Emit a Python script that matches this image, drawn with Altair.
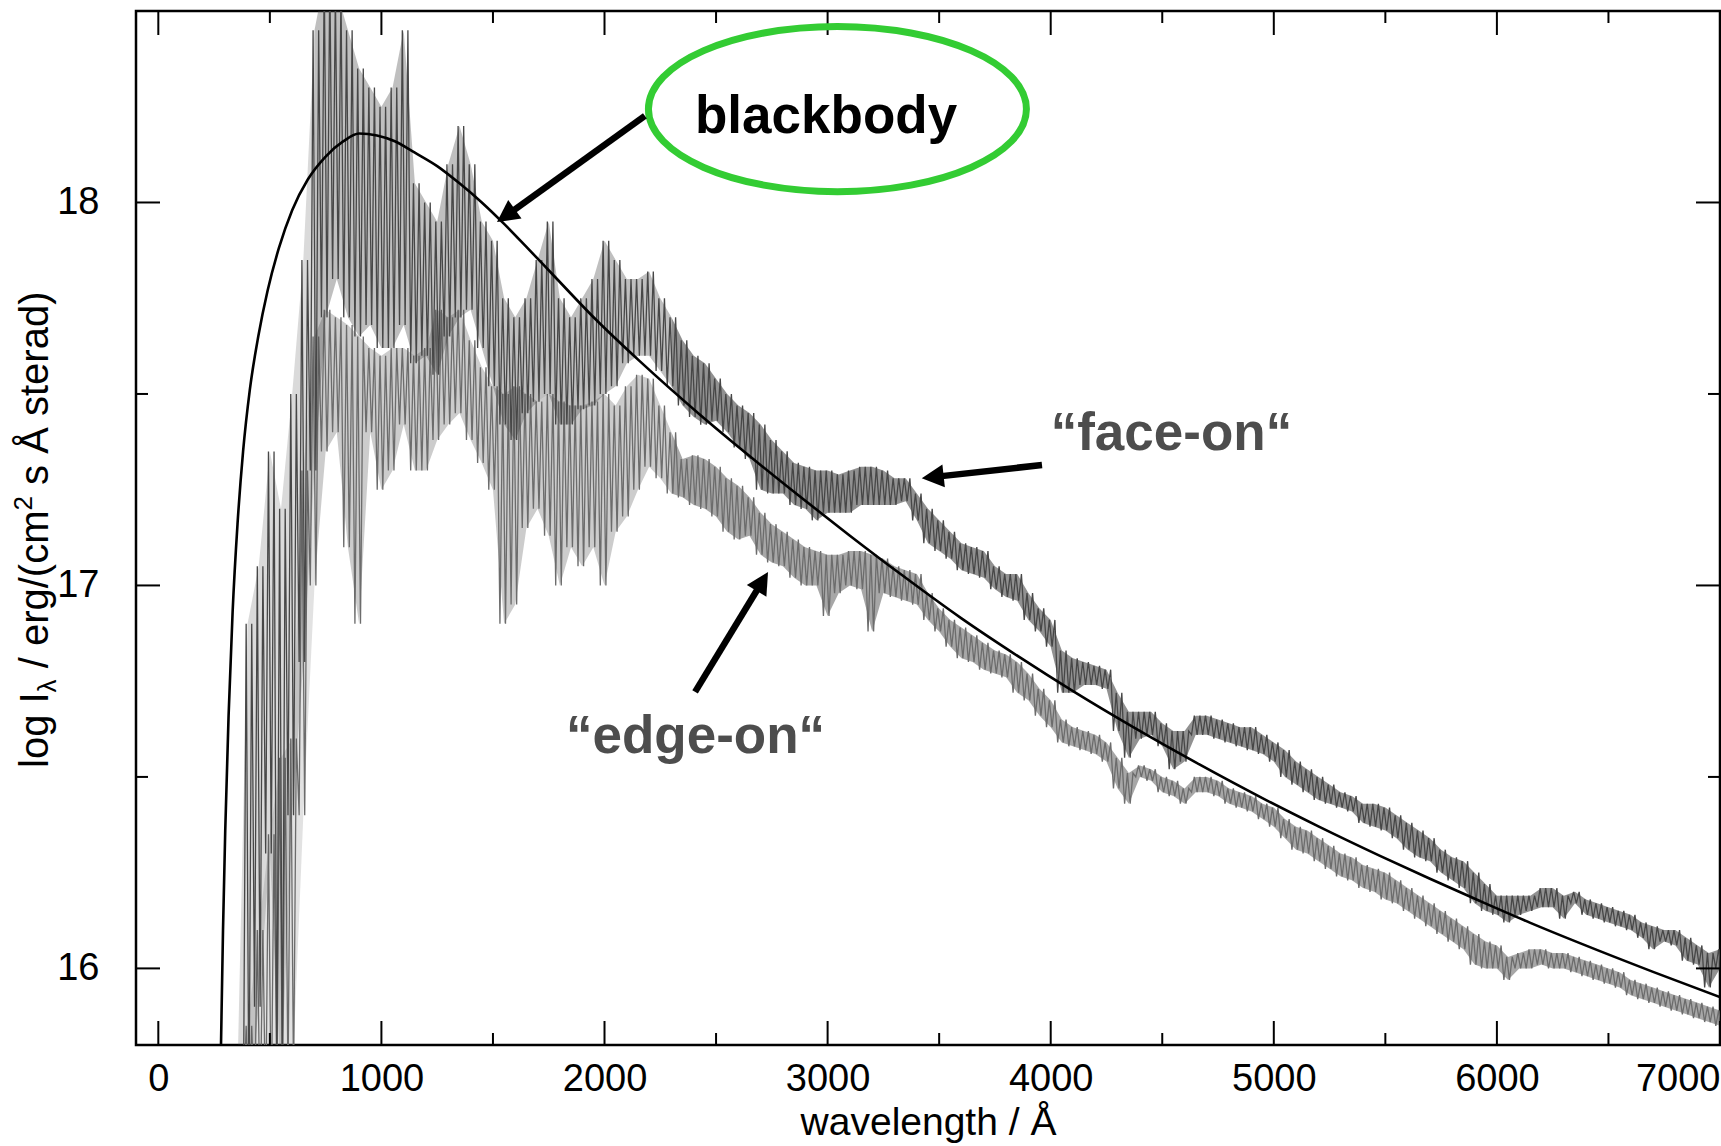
import altair as alt
import pandas as pd

# ---------------------------------------------------------------- data
# wavelength grid of the spectra (Angstrom)
wavelength = list(range(350, 7001, 50))

# "face-on" spectrum: upper / lower envelope of the noisy trace (log I)
face_hi = [
    15.6, 16.9, 17.05, 17.35, 17.2, 17.5, 17.85, 18.45, 18.6, 18.55,
    18.45, 18.35, 18.3, 18.25, 18.3, 18.45, 18.05, 18.0, 17.95, 18.1,
    18.2, 18.1, 17.95, 17.9, 17.75, 17.7, 17.75, 17.85, 17.95, 17.75,
    17.7, 17.75, 17.8, 17.9, 17.85, 17.8, 17.8, 17.82, 17.75, 17.7,
    17.64, 17.6, 17.58, 17.54, 17.5, 17.47, 17.45, 17.42, 17.38, 17.35,
    17.32, 17.31, 17.3, 17.3, 17.29, 17.3, 17.31, 17.31, 17.3, 17.28,
    17.28, 17.24, 17.2, 17.17, 17.14, 17.11, 17.1, 17.09, 17.05, 17.03,
    17.03, 16.98, 16.94, 16.91, 16.83, 16.81, 16.8, 16.79, 16.78, 16.72,
    16.67, 16.67, 16.67, 16.64, 16.62, 16.62, 16.66, 16.66, 16.65, 16.64,
    16.63, 16.63, 16.61, 16.59, 16.57, 16.54, 16.52, 16.5, 16.48, 16.46,
    16.45, 16.43, 16.43, 16.42, 16.4, 16.38, 16.36, 16.34, 16.31, 16.29,
    16.28, 16.25, 16.22, 16.19, 16.19, 16.19, 16.19, 16.21, 16.21, 16.19,
    16.2, 16.18, 16.17, 16.16, 16.15, 16.14, 16.12, 16.11, 16.1, 16.1,
    16.08, 16.06, 16.04, 16.05,
]
face_lo = [
    15.6, 15.6, 15.9, 16.3, 15.7, 16.4, 16.8, 17.3, 17.7, 17.8,
    17.7, 17.65, 17.68, 17.62, 17.62, 17.68, 17.58, 17.6, 17.55, 17.65,
    17.7, 17.72, 17.62, 17.52, 17.42, 17.38, 17.45, 17.48, 17.5, 17.42,
    17.42, 17.46, 17.47, 17.5, 17.52, 17.58, 17.6, 17.6, 17.56, 17.52,
    17.47, 17.44, 17.42, 17.43, 17.4, 17.36, 17.33, 17.25, 17.24, 17.24,
    17.21, 17.2, 17.17, 17.19, 17.19, 17.19, 17.21, 17.21, 17.21, 17.21,
    17.22, 17.17, 17.11, 17.09, 17.07, 17.04, 17.03, 17.02, 16.99, 16.97,
    16.96, 16.91, 16.88, 16.84, 16.72, 16.72, 16.74, 16.74, 16.73, 16.62,
    16.55, 16.6, 16.61, 16.58, 16.52, 16.54, 16.61, 16.61, 16.6, 16.59,
    16.58, 16.57, 16.56, 16.54, 16.5, 16.48, 16.46, 16.44, 16.43, 16.42,
    16.41, 16.38, 16.37, 16.36, 16.34, 16.31, 16.29, 16.28, 16.25, 16.23,
    16.21, 16.17, 16.15, 16.14, 16.12, 16.14, 16.15, 16.16, 16.16, 16.13,
    16.17, 16.14, 16.13, 16.12, 16.11, 16.1, 16.08, 16.05, 16.07, 16.06,
    16.02, 16.01, 15.95, 16.0,
]

# "edge-on" spectrum
edge_hi = [
    15.6, 15.85, 16.1, 16.35, 16.55, 16.6, 17.3, 17.65, 17.72, 17.7,
    17.68, 17.65, 17.62, 17.6, 17.62, 17.62, 17.6, 17.62, 17.72, 17.7,
    17.72, 17.64, 17.57, 17.52, 17.5, 17.52, 17.5, 17.48, 17.5, 17.48,
    17.47, 17.47, 17.48, 17.5, 17.47, 17.52, 17.55, 17.54, 17.47, 17.4,
    17.33, 17.34, 17.33, 17.31, 17.28, 17.26, 17.23, 17.19, 17.16, 17.14,
    17.12, 17.1, 17.09, 17.08, 17.08, 17.09, 17.09, 17.08, 17.07, 17.05,
    17.04, 17.03, 16.98, 16.94, 16.91, 16.89, 16.87, 16.85, 16.83, 16.82,
    16.8, 16.77, 16.73, 16.7, 16.65, 16.63, 16.62, 16.61, 16.59, 16.55,
    16.51, 16.53, 16.52, 16.5, 16.49, 16.47, 16.5, 16.5, 16.49, 16.47,
    16.46, 16.45, 16.43, 16.42, 16.39, 16.37, 16.36, 16.34, 16.32, 16.3,
    16.29, 16.27, 16.26, 16.25, 16.23, 16.21, 16.19, 16.17, 16.15, 16.13,
    16.11, 16.09, 16.07, 16.06, 16.03, 16.04, 16.05, 16.05, 16.04, 16.04,
    16.03, 16.02, 16.01, 16.0, 15.99, 15.97, 15.96, 15.95, 15.94, 15.93,
    15.92, 15.91, 15.9, 15.89,
]
edge_lo = [
    15.6, 15.6, 15.6, 15.6, 15.7, 15.7, 16.4, 17.0, 17.35, 17.4,
    17.1, 16.9, 17.4, 17.25, 17.3, 17.42, 17.3, 17.3, 17.38, 17.42,
    17.45, 17.38, 17.32, 17.25, 16.9, 16.95, 17.15, 17.2, 17.13, 17.0,
    17.1, 17.05, 17.1, 17.0, 17.14, 17.18, 17.25, 17.31, 17.28, 17.24,
    17.23, 17.21, 17.2, 17.18, 17.14, 17.12, 17.13, 17.08, 17.06, 17.05,
    17.02, 17.0, 17.0, 16.92, 16.98, 17.0, 16.99, 16.88, 16.98, 16.97,
    16.96, 16.95, 16.91, 16.88, 16.84, 16.81, 16.8, 16.78, 16.77, 16.76,
    16.72, 16.7, 16.66, 16.63, 16.59, 16.58, 16.57, 16.56, 16.54, 16.47,
    16.43, 16.5, 16.49, 16.46, 16.45, 16.43, 16.46, 16.46, 16.45, 16.43,
    16.42, 16.41, 16.39, 16.37, 16.34, 16.31, 16.3, 16.28, 16.26, 16.24,
    16.23, 16.21, 16.2, 16.18, 16.17, 16.15, 16.13, 16.11, 16.09, 16.07,
    16.05, 16.01, 16.0, 16.0, 15.97, 16.0, 16.0, 16.01, 16.0, 16.0,
    15.99, 15.98, 15.97, 15.96, 15.95, 15.93, 15.92, 15.91, 15.9, 15.89,
    15.88, 15.87, 15.86, 15.85,
]

# blackbody curve
bb_wl = [281, 290, 300, 315, 333, 355, 380, 410, 448, 490, 540, 600, 670,
         750, 830, 900, 980, 1060, 1150, 1250, 1350, 1450, 1550, 1650, 1771,
         1960, 2159, 2428, 2650, 2876, 3100, 3324, 3600, 3862, 4100, 4370,
         4650, 4968, 5200, 5476, 5700, 5924, 6150, 6372, 6700, 7000]
bb_val = [15.80, 16.10, 16.36, 16.66, 16.93, 17.16, 17.35, 17.51, 17.65,
          17.77, 17.88, 17.98, 18.06, 18.12, 18.16, 18.18, 18.175, 18.16,
          18.13, 18.095, 18.05, 18.0, 17.944, 17.884, 17.81, 17.695, 17.585,
          17.446, 17.338, 17.232, 17.13, 17.031, 16.914, 16.812, 16.724,
          16.63, 16.538, 16.439, 16.371, 16.294, 16.234, 16.176, 16.119,
          16.066, 15.991, 15.925]

# axis ticks
x_major = [0, 1000, 2000, 3000, 4000, 5000, 6000, 7000]
x_minor = [500, 1500, 2500, 3500, 4500, 5500, 6500]
y_major = [16, 17, 18]
y_minor = [16.5, 17.5]

# annotations (data coordinates)
labels = ["blackbody", "\u201cface-on\u201c", "\u201cedge-on\u201c"]
label_wl = [2993, 4541, 2408]
label_val = [18.181, 17.354, 16.562]
label_color = ["#000000", "#4d4d4d", "#4d4d4d"]

arrow_tail_wl = [2181, 3961, 2406]
arrow_tail_val = [18.226, 17.3145, 16.722]
arrow_neck_wl = [1591, 3511, 2686]
arrow_neck_val = [17.979, 17.2855, 16.990]
arrow_tip_wl = [1518, 3422, 2733]
arrow_tip_val = [17.949, 17.2798, 17.035]
arrow_angle = [234.4, 263.8, 31.3]

ring_wl = [3044]
ring_val = [18.244]

# ---------------------------------------------------------------- layout
W, H = 1584, 1034
FONT = "Liberation Sans"
FACE_COLOR = "#474747"
EDGE_COLOR = "#6c6c6c"

x_scale = alt.Scale(domain=[-100, 7000], nice=False, zero=False)
y_scale = alt.Scale(domain=[15.8, 18.5], nice=False, zero=False)

x_axis = alt.Axis(
    values=x_major, format="d", grid=False, ticks=False, tickSize=0,
    domain=False, labelFont=FONT, labelFontSize=38, labelColor="black",
    labelPadding=15, labelFlush=True, title="wavelength / \u00c5",
    titleFont=FONT, titleFontSize=39, titleFontWeight="normal",
    titleColor="black", titleY=89, titleBaseline="alphabetic",
)
y_axis = alt.Axis(
    values=y_major, format="d", grid=False, ticks=False, tickSize=0,
    domain=False, labelFont=FONT, labelFontSize=38, labelColor="black",
    labelPadding=37, title=None,
)


def X(field):
    return alt.X(field, type="quantitative", scale=x_scale, axis=x_axis)


def Y(field):
    return alt.Y(field, type="quantitative", scale=y_scale, axis=y_axis)


def trace_frame(lo, hi):
    # the noisy trace swings twice between the lower and upper envelope
    # in every 50 A bin
    rows = []
    for w, a, b in zip(wavelength, lo, hi):
        rows += [{"wl": w - 18.75, "v": a}, {"wl": w - 6.25, "v": b},
                 {"wl": w + 6.25, "v": a}, {"wl": w + 18.75, "v": b}]
    return pd.DataFrame(rows)


# the short-wavelength part of the spectra is sparse, spiky noise; the
# long-wavelength part is a dense, narrow band
BAND_SEGMENTS = [(350, 700, 0.2), (700, 2300, 0.35), (2300, 7000, 0.6)]


def spectrum(lo, hi, color):
    full = pd.DataFrame({"wl": wavelength, "lo": lo, "hi": hi})
    layers = []
    for start, stop, alpha in BAND_SEGMENTS:
        part = full[(full.wl >= start) & (full.wl <= stop)]
        layers.append(alt.Chart(part).mark_area(
            color=color, opacity=alpha, clip=True
        ).encode(x=X("wl"), y=Y("lo"), y2=alt.Y2("hi")))
    layers.append(alt.Chart(trace_frame(lo, hi)).mark_line(
        color=color, strokeWidth=1.3, clip=True
    ).encode(x=X("wl"), y=Y("v")))
    return alt.layer(*layers)


edge = spectrum(edge_lo, edge_hi, EDGE_COLOR)
face = spectrum(face_lo, face_hi, FACE_COLOR)

blackbody = alt.Chart(pd.DataFrame({"wl": bb_wl, "v": bb_val})).mark_line(
    color="black", strokeWidth=2.6, interpolate="monotone", clip=True
).encode(x=X("wl"), y=Y("v"))


# inward ticks on all four sides
def xticks(values, length):
    df = pd.DataFrame({"t": values})
    bottom = alt.Chart(df).mark_rule(color="black", strokeWidth=2).encode(
        x=X("t"), y=alt.value(H), y2=alt.value(H - length))
    top = alt.Chart(df).mark_rule(color="black", strokeWidth=2).encode(
        x=X("t"), y=alt.value(0), y2=alt.value(length))
    return bottom + top


def yticks(values, length):
    df = pd.DataFrame({"t": values})
    left = alt.Chart(df).mark_rule(color="black", strokeWidth=2).encode(
        y=Y("t"), x=alt.value(0), x2=alt.value(length))
    right = alt.Chart(df).mark_rule(color="black", strokeWidth=2).encode(
        y=Y("t"), x=alt.value(W), x2=alt.value(W - length))
    return left + right


ticks = xticks(x_major, 24) + xticks(x_minor, 12) + yticks(y_major, 24) + yticks(y_minor, 12)

# annotations
label_df = pd.DataFrame({"wl": label_wl, "v": label_val, "text": labels,
                         "color": label_color})
label_layer = alt.Chart(label_df).mark_text(
    font=FONT, fontSize=53, fontWeight="bold", align="center",
    baseline="alphabetic"
).encode(x=X("wl"), y=Y("v"), text="text:N",
         color=alt.Color("color:N", scale=None))

shaft_df = pd.DataFrame({"wl": arrow_tail_wl, "v": arrow_tail_val,
                         "wl2": arrow_neck_wl, "v2": arrow_neck_val})
shafts = alt.Chart(shaft_df).mark_rule(
    color="black", strokeWidth=6.5, strokeCap="butt"
).encode(x=X("wl"), y=Y("v"), x2=alt.X2("wl2"), y2=alt.Y2("v2"))

head_df = pd.DataFrame({"wl": arrow_tip_wl, "v": arrow_tip_val,
                        "ang": arrow_angle})
heads = alt.Chart(head_df).mark_point(
    shape="M0,0L0.52,1L-0.52,1Z", filled=True, color="black", opacity=1,
    size=1936, strokeWidth=0
).encode(x=X("wl"), y=Y("v"), angle=alt.Angle("ang:Q", scale=None))

ring = alt.Chart(pd.DataFrame({"wl": ring_wl, "v": ring_val})).mark_point(
    shape="M-1,0A1,0.437,0,1,0,1,0A1,0.437,0,1,0,-1,0Z", filled=False,
    color="#33cc33", opacity=1, strokeWidth=7, size=142884
).encode(x=X("wl"), y=Y("v"))


# y-axis title with subscript and superscript, drawn piece by piece
def title_piece(text, dx, dy, size):
    return alt.Chart(pd.DataFrame({"t": [text]})).mark_text(
        font=FONT, fontSize=size, angle=270, align="left",
        baseline="alphabetic", color="black", dx=dx, dy=dy
    ).encode(x=alt.value(-88), y=alt.value(757), text="t:N")


y_title = (
    title_piece("log I", 0, 0, 40)
    + title_piece("\u03bb", 75.6, 8, 26)
    + title_piece("/ erg/(cm", 99.7, 0, 40)
    + title_piece("2", 257.5, -16, 26)
    + title_piece("s \u00c5 sterad)", 283.1, 0, 40)
)

chart = alt.layer(
    edge, face, blackbody, ticks, ring, shafts, heads, label_layer, y_title
).properties(
    width=W, height=H,
    autosize=alt.AutoSizeParams(type="none"),
    padding={"left": 136, "top": 11, "right": 1, "bottom": 101},
    background="white",
).configure_view(stroke="black", strokeWidth=2.5)

chart.save("out.html", embed_options={"renderer": "svg", "actions": False})
